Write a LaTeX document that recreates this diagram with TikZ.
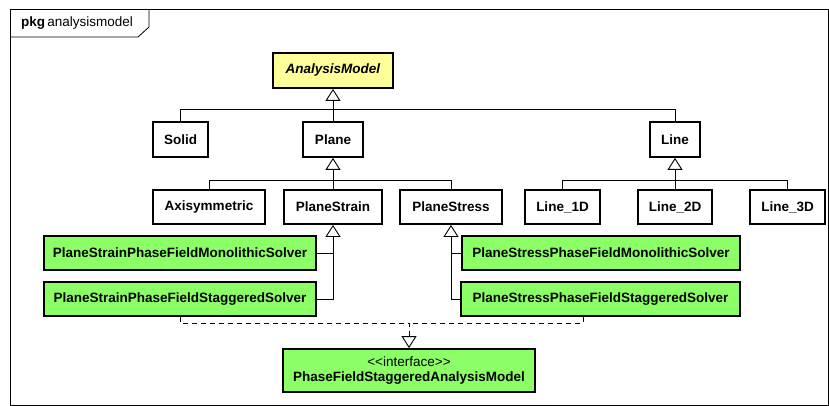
\documentclass[tikz,border=0pt]{standalone}
\usepackage{fontspec}
\setmainfont{Liberation Sans}
\usepackage{xcolor}
\usetikzlibrary{arrows.meta,calc,positioning}

\definecolor{absyellow}{RGB}{255,255,153}
\definecolor{solvergreen}{RGB}{140,255,102}

\begin{document}
\begin{tikzpicture}[x=1pt,y=-1pt,
                    font=\fontsize{13.5}{15.5}\selectfont,
                    class node/.style={rectangle,draw,line width=1.8pt,fill=white,
                                       inner sep=0pt,font=\fontsize{13.5}{15.5}\selectfont\bfseries},
                    solver node/.style={class node,fill=solvergreen},
                    inherit/.style={line width=0.9pt,-{Triangle[open,width=15pt,length=12pt,line width=0.9pt]}},
                    realize/.style={inherit,dash pattern=on 5pt off 4pt}]

  \useasboundingbox (0,0) rectangle (829,406);

  % package frame
  \draw[line width=0.8pt] (10,9) rectangle (828,405);
  \draw[line width=0.8pt] (10,37) -- (138,37) -- (149,27) -- (149,9);
  \node[anchor=west,inner sep=0pt] (pkg) at (21,23) {\textbf{pkg}\,analysismodel};

  % classes
  \node[class node,fill=absyellow,minimum width=120,minimum height=35] (model) at (333,70.5) {\textit{AnalysisModel}};

  \node[class node,minimum width=55,minimum height=35] (solid) at (180.5,139.5) {Solid};
  \node[class node,minimum width=60,minimum height=35] (plane) at (333,139.5) {Plane};
  \node[class node,minimum width=50,minimum height=35] (line) at (675,139.5) {Line};

  \node[class node,minimum width=112,minimum height=34] (axisym) at (209,207) {Axisymmetric};
  \node[class node,minimum width=98,minimum height=34] (pstrain) at (333,207) {PlaneStrain};
  \node[class node,minimum width=102,minimum height=34] (pstress) at (451,207) {PlaneStress};
  \node[class node,minimum width=75,minimum height=34] (line1) at (562.5,207) {Line\_1D};
  \node[class node,minimum width=74,minimum height=34] (line2) at (675,207) {Line\_2D};
  \node[class node,minimum width=75,minimum height=34] (line3) at (787.5,207) {Line\_3D};

  \node[solver node,minimum width=272,minimum height=34] (strainmono) at (180,253) {PlaneStrainPhaseFieldMonolithicSolver};
  \node[solver node,minimum width=272,minimum height=34] (strainstag) at (180,299) {PlaneStrainPhaseFieldStaggeredSolver};
  \node[solver node,minimum width=278,minimum height=34] (stressmono) at (601,253) {PlaneStressPhaseFieldMonolithicSolver};
  \node[solver node,minimum width=279,minimum height=34] (stressstag) at (600.5,299) {PlaneStressPhaseFieldStaggeredSolver};

  \node[solver node,minimum width=252,minimum height=43,align=center] (staginterface) at (409,370.5)
    {{\mdseries <\kern0pt<interface>\kern0pt>}\\PhaseFieldStaggeredAnalysisModel};

  % generalizations
  \coordinate (modelbus) at (333,109);
  \coordinate (planebus) at (333,180);
  \coordinate (linebus) at (675,180);

  \draw[inherit] (plane.north) -- (model.south);
  \draw[line width=0.9pt] (solid.north) |- (modelbus);
  \draw[line width=0.9pt] (line.north) |- (modelbus);

  \draw[inherit] (pstrain.north) -- (plane.south);
  \draw[line width=0.9pt] (axisym.north) |- (planebus);
  \draw[line width=0.9pt] (pstress.north) |- (planebus);

  \draw[inherit] (line2.north) -- (line.south);
  \draw[line width=0.9pt] (line1.north) |- (linebus);
  \draw[line width=0.9pt] (line3.north) |- (linebus);

  \draw[inherit] (strainstag.east) -| (pstrain.south);
  \draw[line width=0.9pt] (strainmono.east) -- (strainmono.east -| pstrain.south);
  \draw[inherit] (stressstag.west) -| (pstress.south);
  \draw[line width=0.9pt] (stressmono.west) -- (stressmono.west -| pstress.south);

  % realizations of the interface
  \coordinate (realbus) at (409,323);
  \draw[realize] (strainstag.south) |- (realbus) -- (staginterface.north);
  \draw[line width=0.9pt,dash pattern=on 5pt off 4pt] ([xshift=-17.5]stressstag.south) |- (realbus);
\end{tikzpicture}
\end{document}
